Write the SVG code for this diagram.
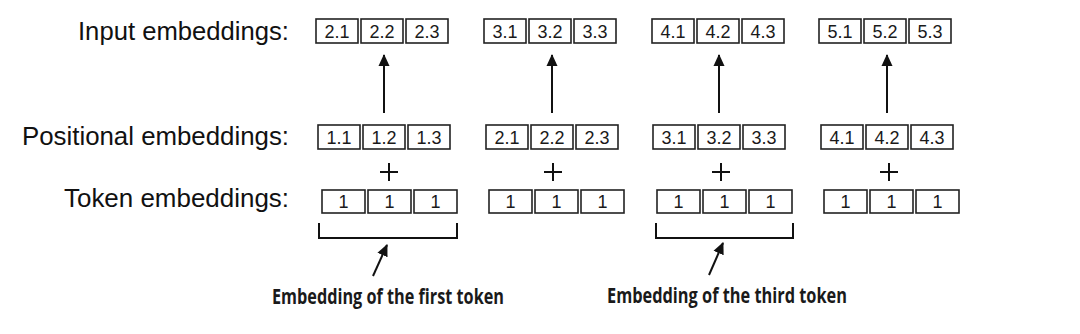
<svg xmlns="http://www.w3.org/2000/svg" width="1080" height="334" viewBox="0 0 1080 334">
  <defs>
    <style>
      .cell { fill: #ffffff; stroke: #222222; stroke-width: 1.6; }
      .num { font-family: "Liberation Sans", Arial, sans-serif; font-size: 18px; fill: #1a1a1a; text-anchor: middle; }
      .lbl { font-family: "Liberation Sans", Arial, sans-serif; font-size: 25px; fill: #111111; text-anchor: end; }
      .note { font-family: "Liberation Sans Narrow", "Open Sans", "Liberation Sans", sans-serif; font-weight: bold; font-size: 22px; fill: #1a1a1a; }
      .line { stroke: #111111; stroke-width: 2; fill: none; }
      .plus { stroke: #111111; stroke-width: 2; }
    </style>
    <marker id="arrow" viewBox="0 0 12 12" refX="11" refY="6" markerWidth="12" markerHeight="12" markerUnits="userSpaceOnUse" orient="auto">
      <path d="M0,0.5 L12,6 L0,11.5 Z" fill="#111111"/>
    </marker>
  </defs>
  <rect width="1080" height="334" fill="#ffffff"/>

  <g id="row-labels">
    <text class="lbl" x="289" y="40" textLength="211" lengthAdjust="spacingAndGlyphs">Input embeddings:</text>
    <text class="lbl" x="289" y="145" textLength="267" lengthAdjust="spacingAndGlyphs">Positional embeddings:</text>
    <text class="lbl" x="289" y="207" textLength="225" lengthAdjust="spacingAndGlyphs">Token embeddings:</text>
  </g>

  <!-- Input embeddings -->
  <g id="input-1">
    <rect class="cell" x="316" y="19" width="42" height="24"/><text class="num" x="337" y="37.5">2.1</text>
    <rect class="cell" x="361" y="19" width="42" height="24"/><text class="num" x="382" y="37.5">2.2</text>
    <rect class="cell" x="406" y="19" width="42" height="24"/><text class="num" x="427" y="37.5">2.3</text>
  </g>
  <g id="input-2">
    <rect class="cell" x="484" y="19" width="42" height="24"/><text class="num" x="505" y="37.5">3.1</text>
    <rect class="cell" x="529" y="19" width="42" height="24"/><text class="num" x="550" y="37.5">3.2</text>
    <rect class="cell" x="574" y="19" width="42" height="24"/><text class="num" x="595" y="37.5">3.3</text>
  </g>
  <g id="input-3">
    <rect class="cell" x="652" y="19" width="42" height="24"/><text class="num" x="673" y="37.5">4.1</text>
    <rect class="cell" x="697" y="19" width="42" height="24"/><text class="num" x="718" y="37.5">4.2</text>
    <rect class="cell" x="742" y="19" width="42" height="24"/><text class="num" x="763" y="37.5">4.3</text>
  </g>
  <g id="input-4">
    <rect class="cell" x="819" y="19" width="42" height="24"/><text class="num" x="840" y="37.5">5.1</text>
    <rect class="cell" x="864" y="19" width="42" height="24"/><text class="num" x="885" y="37.5">5.2</text>
    <rect class="cell" x="909" y="19" width="42" height="24"/><text class="num" x="930" y="37.5">5.3</text>
  </g>

  <!-- Positional embeddings -->
  <g id="pos-1">
    <rect class="cell" x="318" y="125" width="42" height="24"/><text class="num" x="339" y="143.5">1.1</text>
    <rect class="cell" x="363" y="125" width="42" height="24"/><text class="num" x="384" y="143.5">1.2</text>
    <rect class="cell" x="408" y="125" width="42" height="24"/><text class="num" x="429" y="143.5">1.3</text>
  </g>
  <g id="pos-2">
    <rect class="cell" x="486" y="125" width="42" height="24"/><text class="num" x="507" y="143.5">2.1</text>
    <rect class="cell" x="531" y="125" width="42" height="24"/><text class="num" x="552" y="143.5">2.2</text>
    <rect class="cell" x="576" y="125" width="42" height="24"/><text class="num" x="597" y="143.5">2.3</text>
  </g>
  <g id="pos-3">
    <rect class="cell" x="653" y="125" width="42" height="24"/><text class="num" x="674" y="143.5">3.1</text>
    <rect class="cell" x="698" y="125" width="42" height="24"/><text class="num" x="719" y="143.5">3.2</text>
    <rect class="cell" x="743" y="125" width="42" height="24"/><text class="num" x="764" y="143.5">3.3</text>
  </g>
  <g id="pos-4">
    <rect class="cell" x="821" y="125" width="42" height="24"/><text class="num" x="842" y="143.5">4.1</text>
    <rect class="cell" x="866" y="125" width="42" height="24"/><text class="num" x="887" y="143.5">4.2</text>
    <rect class="cell" x="911" y="125" width="42" height="24"/><text class="num" x="932" y="143.5">4.3</text>
  </g>

  <!-- Token embeddings -->
  <g id="tok-1">
    <rect class="cell" x="322" y="190" width="43" height="23"/><text class="num" x="343.5" y="208">1</text>
    <rect class="cell" x="368" y="190" width="43" height="23"/><text class="num" x="389.5" y="208">1</text>
    <rect class="cell" x="414" y="190" width="43" height="23"/><text class="num" x="435.5" y="208">1</text>
  </g>
  <g id="tok-2">
    <rect class="cell" x="489" y="190" width="43" height="23"/><text class="num" x="510.5" y="208">1</text>
    <rect class="cell" x="535" y="190" width="43" height="23"/><text class="num" x="556.5" y="208">1</text>
    <rect class="cell" x="581" y="190" width="43" height="23"/><text class="num" x="602.5" y="208">1</text>
  </g>
  <g id="tok-3">
    <rect class="cell" x="657" y="190" width="43" height="23"/><text class="num" x="678.5" y="208">1</text>
    <rect class="cell" x="703" y="190" width="43" height="23"/><text class="num" x="724.5" y="208">1</text>
    <rect class="cell" x="749" y="190" width="43" height="23"/><text class="num" x="770.5" y="208">1</text>
  </g>
  <g id="tok-4">
    <rect class="cell" x="824" y="190" width="43" height="23"/><text class="num" x="845.5" y="208">1</text>
    <rect class="cell" x="870" y="190" width="43" height="23"/><text class="num" x="891.5" y="208">1</text>
    <rect class="cell" x="916" y="190" width="43" height="23"/><text class="num" x="937.5" y="208">1</text>
  </g>

  <!-- Plus signs -->
  <g id="plus-signs">
    <path class="plus" d="M380,172 H398 M389,163 V181"/>
    <path class="plus" d="M544,172 H562 M553,163 V181"/>
    <path class="plus" d="M712,172 H730 M721,163 V181"/>
    <path class="plus" d="M880,172 H898 M889,163 V181"/>
  </g>

  <!-- Brackets -->
  <g id="brackets">
    <path class="line" d="M319,223 V238 H457 V223"/>
    <path class="line" d="M656,223 V238 H793 V223"/>
  </g>

  <!-- Connectors -->
  <g id="connectors">
    <line class="line" x1="384" y1="113" x2="384" y2="55" marker-end="url(#arrow)"/>
    <line class="line" x1="552" y1="113" x2="552" y2="55" marker-end="url(#arrow)"/>
    <line class="line" x1="719" y1="113" x2="719" y2="55" marker-end="url(#arrow)"/>
    <line class="line" x1="887" y1="113" x2="887" y2="55" marker-end="url(#arrow)"/>
    <line class="line" x1="373" y1="276" x2="387" y2="245" marker-end="url(#arrow)"/>
    <line class="line" x1="709" y1="275" x2="723" y2="243" marker-end="url(#arrow)"/>
  </g>

  <g id="annotations">
    <text class="note" x="272" y="304" textLength="232" lengthAdjust="spacingAndGlyphs">Embedding of the first token</text>
    <text class="note" x="607" y="303" textLength="240" lengthAdjust="spacingAndGlyphs">Embedding of the third token</text>
  </g>
</svg>
